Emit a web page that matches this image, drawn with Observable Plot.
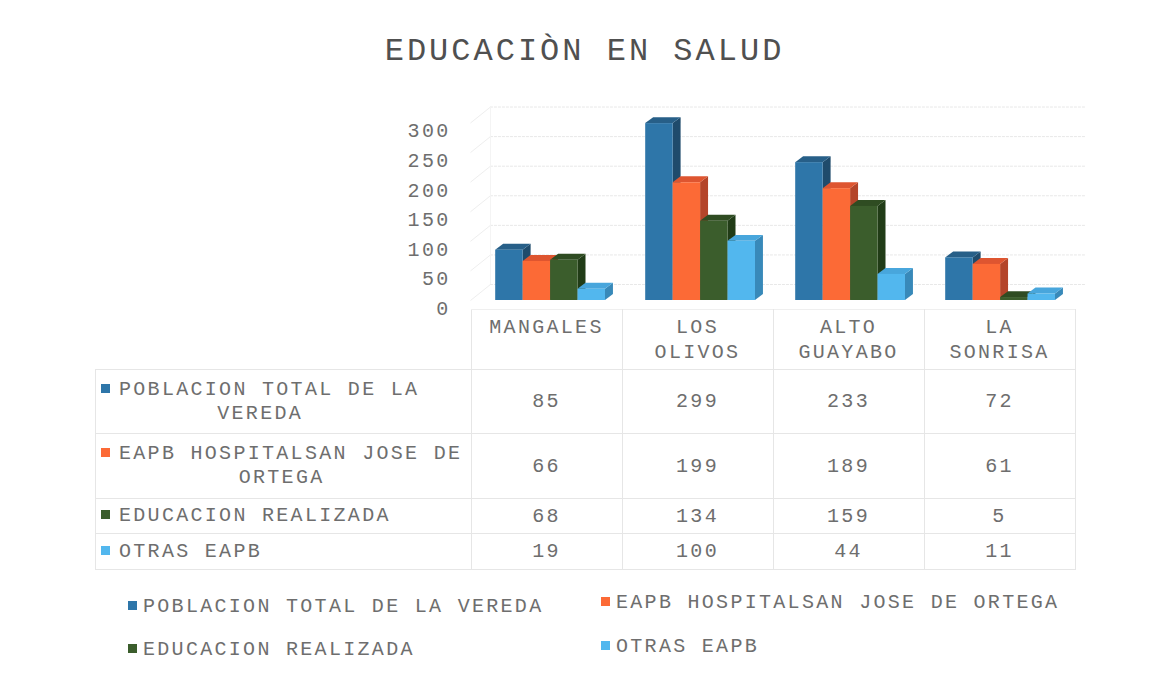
<!DOCTYPE html>
<html>
<head>
<meta charset="utf-8">
<script src="https://cdn.jsdelivr.net/npm/d3@7"></script>
<script src="https://cdn.jsdelivr.net/npm/@observablehq/plot@0.6"></script>
<style>
  html, body { margin: 0; padding: 0; background: #ffffff; }
  #page { position: relative; width: 1153px; height: 677px; overflow: hidden; font-family: "Liberation Mono", "DejaVu Sans Mono", monospace; color: #666; }
  #title { position: absolute; left: 8px; top: 31px; width: 1153px; text-align: center; font-size: 32px; letter-spacing: 3px; line-height: 42px; color: #505050; }
  #chart { position: absolute; left: 0; top: 100px; }
  #chart svg { letter-spacing: 2.3px; }
  #table { position: absolute; left: 95px; top: 309px; border-collapse: collapse; font-size: 20px; letter-spacing: 2.3px; color: #6e6e6e; }
  #table td { border: 1px solid #e6e6e6; padding: 0; text-align: center; vertical-align: middle; }
  #table td.corner { border: none; }
  #table td.head { vertical-align: top; padding: 5px 10px 0 10px; line-height: 25px; border-top: 1px solid #efefef; }
  #table td.rowlab { text-align: left; padding-left: 5px; }
  .lab { display: inline-block; text-align: center; line-height: 24px; }
  .sq { display: inline-block; width: 9px; height: 9px; margin-right: 9px; vertical-align: 2px; letter-spacing: 0; }
  .legend { position: absolute; font-size: 20px; letter-spacing: 2.3px; color: #6e6e6e; white-space: nowrap; line-height: 24px; }
  .legend .sq { width: 9px; height: 9px; margin-right: 6px; }
</style>
</head>
<body>
<div id="page">
  <div id="title"></div>
  <div id="chart"></div>
  <table id="table"></table>
  <div id="legend"></div>
</div>
<script>
// ---- data ----
const title = "EDUCACIÒN EN SALUD";
const categories = ["MANGALES", "LOS OLIVOS", "ALTO GUAYABO", "LA SONRISA"];
const seriesNames = ["POBLACION TOTAL DE LA VEREDA", "EAPB HOSPITALSAN JOSE DE ORTEGA", "EDUCACION REALIZADA", "OTRAS EAPB"];
const poblacionTotal = [85, 299, 233, 72];
const eapbHospital = [66, 199, 189, 61];
const educacionRealizada = [68, 134, 159, 5];
const otrasEapb = [19, 100, 44, 11];
const yTicks = [0, 50, 100, 150, 200, 250, 300];
const frontColors = ["#2e76a9", "#fc6a36", "#3b5d2c", "#52b7ee"];
const topColors = ["#275f88", "#de5530", "#2f4c22", "#48a6dc"];
const sideColors = ["#1f4b6c", "#b4452a", "#213c17", "#3889b9"];

const seriesValues = [poblacionTotal, eapbHospital, educacionRealizada, otrasEapb];

// ---- geometry (in scale units) ----
const groupStart = 0.168, barW = 0.183;
const depthX = 0.053, depthY = 10;      // bar depth
const wallX = 0.133, wallY = 27;        // back wall offset

const bars = [];
categories.forEach((c, i) => {
  seriesValues.forEach((vals, j) => {
    const x1 = i + groupStart + j * barW;
    bars.push({id: `${i}-${j}`, cat: c, s: j, v: vals[i], x1, x2: x1 + barW});
  });
});
const sidePts = bars.flatMap(b => [
  {id: b.id, x: b.x2, y1: 0, y2: b.v, fill: sideColors[b.s]},
  {id: b.id, x: b.x2 + depthX, y1: depthY, y2: b.v + depthY, fill: sideColors[b.s]}
]);
const topPts = bars.flatMap(b => [
  {id: b.id, y: b.v, x1: b.x1, x2: b.x2, fill: topColors[b.s]},
  {id: b.id, y: b.v + depthY, x1: b.x1 + depthX, x2: b.x2 + depthX, fill: topColors[b.s]}
]);

document.getElementById("title").textContent = title;

const plot = Plot.plot({
  width: 1153,
  height: 210,
  marginLeft: 470,
  marginRight: 83,
  marginTop: 22.5,
  marginBottom: 10,
  style: {fontFamily: "Liberation Mono, monospace", fontSize: "20px", color: "#6e6e6e", background: "transparent", overflow: "visible"},
  x: {domain: [0, categories.length], axis: null},
  y: {domain: [0, 300], axis: null},
  color: {type: "identity"},
  marks: [
    // back wall gridlines
    Plot.ruleY(yTicks, {y: d => d + wallY, x1: wallX, x2: categories.length + wallX - 0.03, stroke: "#e8e8e8", strokeWidth: 1, strokeDasharray: "3,1"}),
    // left wall depth lines
    Plot.link(yTicks, {x1: 0, y1: d => d, x2: wallX, y2: d => d + wallY, stroke: "#eeeeee"}),
    Plot.ruleX([wallX], {y1: wallY, y2: 300 + wallY, stroke: "#f4f4f4"}),
    // bars: sides, tops, fronts
    Plot.areaY(sidePts, {x: "x", y1: "y1", y2: "y2", z: "id", fill: "fill"}),
    Plot.areaX(topPts, {y: "y", x1: "x1", x2: "x2", z: "id", fill: "fill"}),
    Plot.rectY(bars, {x1: "x1", x2: "x2", y1: 0, y2: "v", fill: d => frontColors[d.s]}),
    // y tick labels
    Plot.text(yTicks, {x: 0, y: d => d, text: d => String(d), textAnchor: "end", dx: -20, dy: 8, fill: "#6e6e6e", fontSize: 20})
  ]
});
document.getElementById("chart").appendChild(plot);

// ---- data table ----
function wrap(text, maxChars) {
  const words = text.split(" ");
  const lines = [];
  let cur = "";
  for (const w of words) {
    const t = cur ? cur + " " + w : w;
    if (t.length > maxChars && cur) { lines.push(cur); cur = w; } else cur = t;
  }
  if (cur) lines.push(cur);
  return lines;
}
const table = d3.select("#table");
const colWidths = [375, 150, 150, 150, 150];
const rowHeights = [60, 64, 65, 35, 36];
const head = table.append("tr").style("height", rowHeights[0] + "px");
head.append("td").attr("class", "corner").style("width", colWidths[0] + "px");
categories.forEach((c, i) => {
  head.append("td").attr("class", "head").style("width", (colWidths[i + 1] - 20) + "px")
    .html(wrap(c, 8).join("<br>"));
});
seriesNames.forEach((name, j) => {
  const tr = table.append("tr").style("height", rowHeights[j + 1] + "px");
  const td = tr.append("td").attr("class", "rowlab");
  const lab = td.append("span").attr("class", "lab");
  wrap(name, 24).forEach((line, k) => {
    const div = lab.append("div");
    if (k === 0) div.append("span").attr("class", "sq").style("background", frontColors[j]);
    div.append("span").text(line);
  });
  seriesValues[j].forEach(v => tr.append("td").text(v));
});

// ---- legend ----
const legendPos = [[128, 595], [601, 591], [128, 638], [601, 635]];
const legend = d3.select("#legend");
seriesNames.forEach((name, j) => {
  const item = legend.append("div").attr("class", "legend")
    .style("left", legendPos[j][0] + "px").style("top", legendPos[j][1] + "px");
  item.append("span").attr("class", "sq").style("background", frontColors[j]);
  item.append("span").text(name);
});
</script>
</body>
</html>
